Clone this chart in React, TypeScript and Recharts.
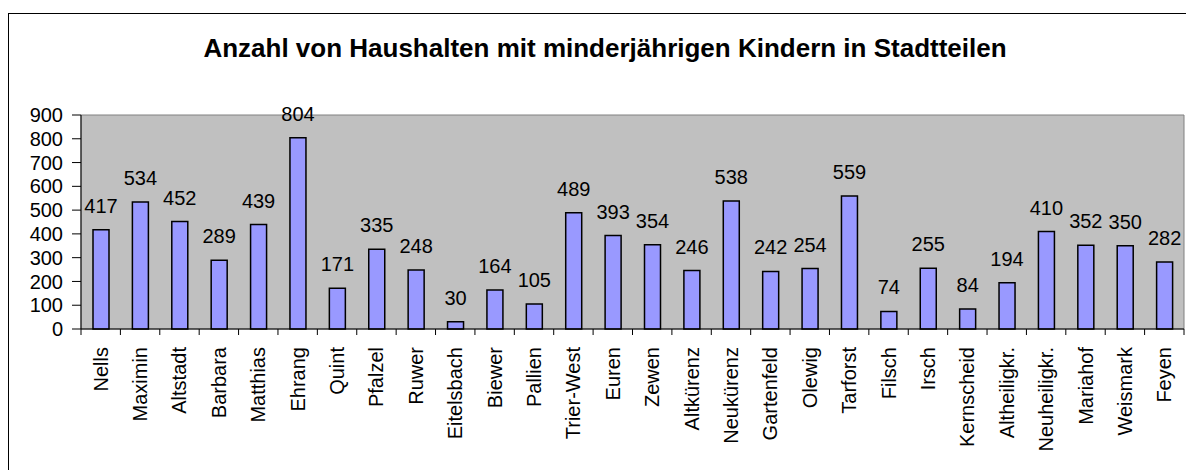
import { BarChart, Bar, XAxis, YAxis, ReferenceArea, LabelList } from "recharts";

const districts = [
  "Nells", "Maximin", "Altstadt", "Barbara", "Matthias", "Ehrang", "Quint", "Pfalzel",
  "Ruwer", "Eitelsbach", "Biewer", "Pallien", "Trier-West", "Euren", "Zewen", "Altkürenz",
  "Neukürenz", "Gartenfeld", "Olewig", "Tarforst", "Filsch", "Irsch", "Kernscheid",
  "Altheiligkr.", "Neuheiligkr.", "Mariahof", "Weismark", "Feyen",
];

const households = [
  417, 534, 452, 289, 439, 804, 171, 335, 248, 30, 164, 105, 489, 393, 354, 246,
  538, 242, 254, 559, 74, 255, 84, 194, 410, 352, 350, 282,
];

const yTicks = [0, 100, 200, 300, 400, 500, 600, 700, 800, 900];

const FONT = "'Liberation Sans', Arial, sans-serif";
const W = 1186;
const H = 470;
const PLOT_LEFT = 81;
const PLOT_RIGHT = 1184;
const BAND = (PLOT_RIGHT - PLOT_LEFT) / districts.length;

const data = districts.map((name, i) => ({ name, value: households[i] }));

function CategoryTick(props: any) {
  const { x, y, payload, index } = props;
  const ty = y + 18;
  return (
    <g>
      <line x1={x - BAND / 2} x2={x - BAND / 2} y1={y} y2={y + 6} stroke="#000" />
      {index === districts.length - 1 && (
        <line x1={x + BAND / 2} x2={x + BAND / 2} y1={y} y2={y + 6} stroke="#000" />
      )}
      <text
        x={x}
        y={ty}
        dy="0.35em"
        textAnchor="end"
        transform={`rotate(-90, ${x}, ${ty})`}
        fontSize={20}
        fontFamily={FONT}
        fill="#000"
      >
        {payload.value}
      </text>
    </g>
  );
}

export default function App() {
  return (
    <div style={{ position: "absolute", left: 0, top: 0, width: W, height: H, overflow: "hidden", background: "#fff" }}>
      {/* outer chart frame: only left and top edges fall inside the picture */}
      <div
        style={{
          position: "absolute",
          left: 8,
          top: 13,
          width: W - 8,
          height: H - 13,
          borderLeft: "1px solid #000",
          borderTop: "1px solid #000",
          boxSizing: "border-box",
        }}
      />
      <div
        style={{
          position: "absolute",
          left: 605,
          top: 35,
          transform: "translateX(-50%)",
          whiteSpace: "nowrap",
          fontFamily: FONT,
          fontWeight: "bold",
          fontSize: 26,
          lineHeight: "26px",
          color: "#000",
        }}
      >
        Anzahl von Haushalten mit minderjährigen Kindern in Stadtteilen
      </div>
      <div style={{ position: "absolute", left: 0, top: 0 }}>
        <BarChart
          width={W}
          height={H}
          data={data}
          margin={{ top: 115, right: W - PLOT_RIGHT, bottom: 0, left: 0 }}
          barCategoryGap={0}
        >
          <ReferenceArea y1={0} y2={900} fill="#C0C0C0" fillOpacity={1} stroke="#808080" strokeWidth={1} />
          <XAxis
            dataKey="name"
            interval={0}
            height={141}
            tickLine={false}
            tickSize={0}
            tickMargin={0}
            axisLine={{ stroke: "#000" }}
            tick={<CategoryTick />}
          />
          <YAxis
            width={PLOT_LEFT}
            domain={[0, 900]}
            ticks={yTicks}
            interval={0}
            tickSize={9}
            tickMargin={9}
            axisLine={{ stroke: "#000" }}
            tickLine={{ stroke: "#000" }}
            tick={{ fill: "#000", fontSize: 20, fontFamily: FONT }}
          />
          <Bar dataKey="value" fill="#9999FF" stroke="#000" strokeWidth={1.5} barSize={16} isAnimationActive={false}>
            <LabelList dataKey="value" position="top" offset={17} fill="#000" fontSize={20} fontFamily={FONT} />
          </Bar>
        </BarChart>
      </div>
    </div>
  );
}
